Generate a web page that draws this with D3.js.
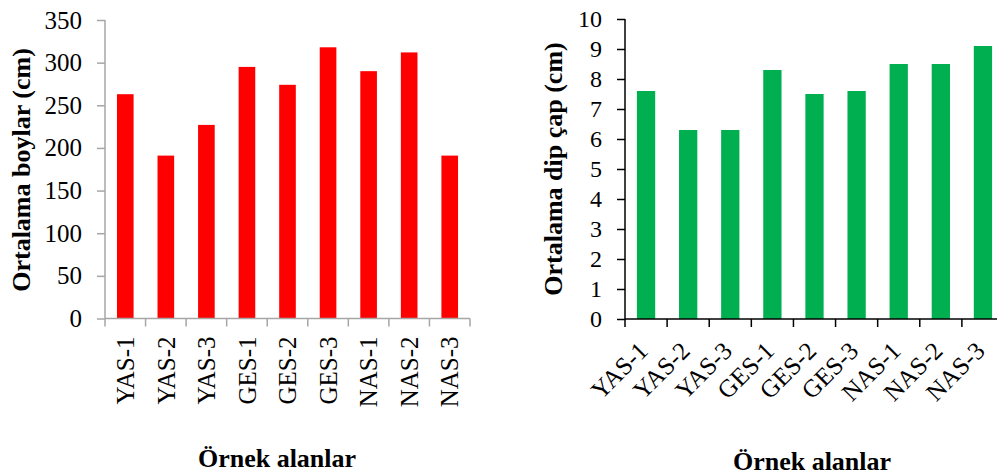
<!DOCTYPE html>
<html>
<head>
<meta charset="utf-8">
<script src="https://cdn.jsdelivr.net/npm/d3@7"></script>
<style>
  html, body { margin: 0; padding: 0; background: #fff; }
  svg { display: block; }
  text { font-family: "Liberation Serif", "Times New Roman", serif; fill: #000; }
</style>
</head>
<body>
<svg id="chart" width="997" height="476"></svg>
<script>
const categories = ["YAS-1", "YAS-2", "YAS-3", "GES-1", "GES-2", "GES-3", "NAS-1", "NAS-2", "NAS-3"];
const heightValues = [263, 191, 227, 295, 274, 318, 290, 312, 191];
const diameterValues = [7.6, 6.3, 6.3, 8.3, 7.5, 7.6, 8.5, 8.5, 9.1];
const heightTicks = [0, 50, 100, 150, 200, 250, 300, 350];
const diameterTicks = [0, 1, 2, 3, 4, 5, 6, 7, 8, 9, 10];
const yTitleLeft = "Ortalama boylar (cm)";
const yTitleRight = "Ortalama dip çap (cm)";
const xTitle = "Örnek alanlar";

const svg = d3.select("#chart");

function drawPanel(cfg) {
  const g = svg.append("g");
  const x = d3.scaleBand().domain(categories).range([cfg.x0, cfg.x1])
    .paddingInner(cfg.padIn).paddingOuter(cfg.padIn / 2);
  const y = d3.scaleLinear().domain([0, cfg.max]).range([cfg.y0, cfg.y1]);

  // bars
  g.selectAll("rect.bar").data(cfg.values).enter().append("rect")
    .attr("class", "bar")
    .attr("x", (d, i) => x(categories[i]))
    .attr("width", x.bandwidth())
    .attr("y", d => y(d))
    .attr("height", d => y(0) - y(d))
    .attr("fill", cfg.color);

  // y axis
  const yAxis = d3.axisLeft(y).tickValues(cfg.ticks).tickSize(8).tickPadding(cfg.yPad)
    .tickFormat(d3.format("d"));
  const ya = g.append("g").attr("transform", `translate(${cfg.x0},0)`).call(yAxis);
  ya.select(".domain").attr("stroke", cfg.axisColor).attr("stroke-width", 1.5)
    .attr("d", `M0,${cfg.y1}V${cfg.y0}`);
  ya.selectAll(".tick line").attr("stroke", cfg.axisColor).attr("stroke-width", 1.5);
  ya.selectAll(".tick text").attr("font-size", cfg.tickFont)
    .attr("font-family", "'Liberation Serif', 'Times New Roman', serif").attr("fill", "#000");

  // x axis line
  g.append("line").attr("x1", cfg.x0).attr("x2", cfg.x1).attr("y1", y(0)).attr("y2", y(0))
    .attr("stroke", cfg.axisColor).attr("stroke-width", 1.5);
  // boundary ticks
  const bounds = categories.map(c => x(c) - x.step() * x.paddingInner() / 2).concat([cfg.x1]);
  g.selectAll("line.xt").data(bounds).enter().append("line")
    .attr("x1", d => d).attr("x2", d => d)
    .attr("y1", y(0)).attr("y2", y(0) + 8)
    .attr("stroke", cfg.axisColor).attr("stroke-width", 1.5);

  // category labels
  g.selectAll("text.cat").data(categories).enter().append("text")
    .attr("class", "cat")
    .attr("font-size", 25)
    .attr("text-anchor", "end")
    .attr("transform", d => {
      const cx = x(d) + x.bandwidth() / 2 + cfg.labDx;
      const cy = y(0) + cfg.labDy;
      return `translate(${cx},${cy}) rotate(${cfg.rot})`;
    })
    .attr("dy", cfg.rot === -90 ? "0.35em" : "0.3em")
    .text(d => d);

  // y title
  g.append("text")
    .attr("font-size", 26).attr("font-weight", "bold").attr("text-anchor", "middle")
    .attr("transform", `translate(${cfg.yTitleX},${cfg.yTitleY}) rotate(-90)`)
    .attr("dy", "0.35em")
    .text(cfg.yTitle);

  // x title
  g.append("text")
    .attr("font-size", 26).attr("font-weight", "bold").attr("text-anchor", "middle")
    .attr("x", cfg.xTitleX).attr("y", cfg.xTitleY)
    .text(xTitle);
}

drawPanel({
  values: heightValues, ticks: heightTicks, max: 350,
  x0: 105, x1: 470, y0: 318.5, y1: 20, padIn: 0.59,
  color: "#ff0000", axisColor: "#a6a6a6", yPad: 15, tickFont: 25,
  rot: -90, labDx: 0, labDy: 18,
  yTitle: yTitleLeft, yTitleX: 21, yTitleY: 170,
  xTitleX: 277, xTitleY: 467
});

drawPanel({
  values: diameterValues, ticks: diameterTicks, max: 10,
  x0: 625, x1: 1004, y0: 319, y1: 19, padIn: 0.566,
  color: "#00b050", axisColor: "#000", yPad: 15, tickFont: 24,
  rot: -45, labDx: -2, labDy: 28,
  yTitle: yTitleRight, yTitleX: 553, yTitleY: 169,
  xTitleX: 812, xTitleY: 470
});
</script>
</body>
</html>
